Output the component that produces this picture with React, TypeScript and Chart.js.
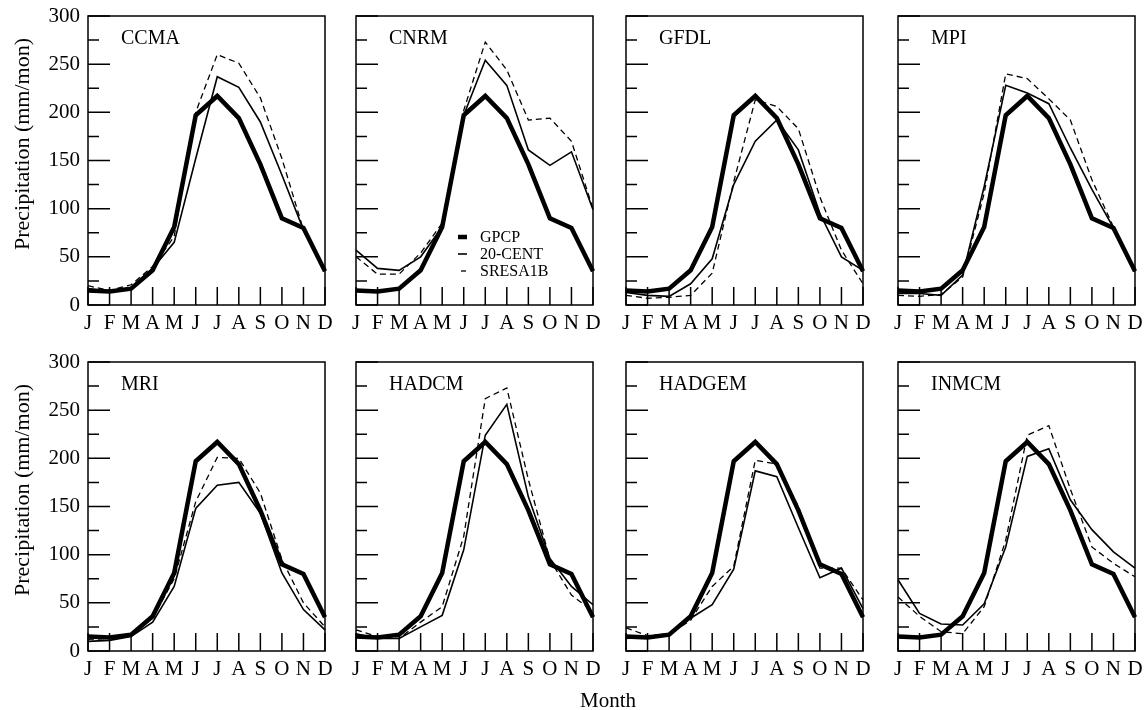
import React, { useEffect, useRef } from 'react';
import { Chart, registerables } from 'chart.js';

Chart.register(...registerables);

// ---------- data ----------
const MONTHS = ['J', 'F', 'M', 'A', 'M', 'J', 'J', 'A', 'S', 'O', 'N', 'D'];
const Y_MIN = 0;
const Y_MAX = 300;
const Y_STEP = 50;

const GPCP = [15, 14, 17, 36, 81, 197, 217, 194, 146, 90, 80, 35];

const CCMA_20C = [17, 14, 18, 38, 65, 152, 237, 226, 190, 135, 78, 35];
const CCMA_A1B = [20, 15, 21, 40, 71, 200, 260, 251, 215, 152, 78, 35];

const CNRM_20C = [57, 38, 36, 50, 81, 197, 254, 228, 161, 145, 159, 99];
const CNRM_A1B = [50, 32, 32, 54, 85, 202, 273, 244, 192, 194, 170, 100];

const GFDL_20C = [13, 10, 9, 22, 48, 125, 170, 192, 161, 95, 50, 36];
const GFDL_A1B = [10, 7, 8, 10, 33, 128, 213, 206, 183, 112, 57, 22];

const MPI_20C = [12, 12, 10, 31, 123, 228, 220, 209, 163, 120, 80, 35];
const MPI_A1B = [10, 9, 11, 29, 116, 240, 235, 214, 192, 130, 81, 35];

const MRI_20C = [10, 11, 15, 30, 67, 148, 172, 175, 143, 81, 43, 22];
const MRI_A1B = [12, 13, 16, 34, 75, 155, 201, 200, 164, 95, 50, 25];

const HADCM_20C = [18, 13, 13, 25, 37, 105, 224, 256, 160, 96, 67, 48];
const HADCM_A1B = [22, 15, 13, 30, 46, 119, 262, 273, 178, 95, 58, 41];

const HADGEM_20C = [13, 15, 18, 34, 48, 85, 187, 181, 128, 76, 86, 44];
const HADGEM_A1B = [24, 16, 17, 32, 67, 88, 198, 194, 150, 86, 86, 53];

const INMCM_20C = [74, 39, 28, 27, 49, 108, 202, 210, 157, 126, 103, 86];
const INMCM_A1B = [56, 36, 20, 18, 46, 115, 224, 234, 168, 108, 91, 77];

const MODEL_NAMES = ['CCMA', 'CNRM', 'GFDL', 'MPI', 'MRI', 'HADCM', 'HADGEM', 'INMCM'];
const MODEL_20C = [CCMA_20C, CNRM_20C, GFDL_20C, MPI_20C, MRI_20C, HADCM_20C, HADGEM_20C, INMCM_20C];
const MODEL_A1B = [CCMA_A1B, CNRM_A1B, GFDL_A1B, MPI_A1B, MRI_A1B, HADCM_A1B, HADGEM_A1B, INMCM_A1B];

const SERIES_LABELS = ['GPCP', '20-CENT', 'SRESA1B'];
const Y_TITLE = 'Precipitation (mm/mon)';
const X_TITLE = 'Month';

// ---------- layout ----------
const FONT = "'Liberation Serif', 'Times New Roman', serif";
const COL_LEFT = [88, 356, 626, 898];
const ROW_TOP = [16, 362];
const PW = 237;
const PH = 289;
const YW = 60;
const PT = 28;
const PR = 20;
const XH = 36;

function Panel({ idx }: { idx: number }) {
  const ref = useRef<HTMLCanvasElement | null>(null);
  const col = idx % 4;
  const row = Math.floor(idx / 4);
  const showY = col === 0;

  useEffect(() => {
    if (!ref.current) return;
    const name = MODEL_NAMES[idx];
    const showLegend = idx === 1;

    const framePlugin = {
      id: 'frame' + idx,
      beforeDatasetsDraw(chart: any) {
        const { ctx, chartArea, scales } = chart;
        const { left, right, top, bottom } = chartArea;
        const x = scales.x;
        const y = scales.y;
        ctx.save();
        ctx.strokeStyle = '#000';
        ctx.lineWidth = 1.5;
        ctx.strokeRect(left, top, right - left, bottom - top);
        ctx.beginPath();
        for (let v = Y_MIN; v <= Y_MAX; v += Y_STEP / 2) {
          const py = y.getPixelForValue(v);
          const len = v % Y_STEP === 0 ? 22 : 11;
          ctx.moveTo(left, py);
          ctx.lineTo(left + len, py);
        }
        for (let i = 0; i < MONTHS.length; i++) {
          const px = x.getPixelForValue(i);
          ctx.moveTo(px, bottom);
          ctx.lineTo(px, bottom - 18);
        }
        ctx.stroke();
        ctx.restore();
      },
      afterDraw(chart: any) {
        const { ctx, chartArea } = chart;
        const { left, top } = chartArea;
        ctx.save();
        ctx.fillStyle = '#000';
        ctx.font = `20px ${FONT}`;
        ctx.textBaseline = 'middle';
        ctx.textAlign = 'left';
        ctx.fillText(name, left + 33, top + 23);
        if (showLegend) {
          ctx.font = `16px ${FONT}`;
          const sx = left + 102;
          const tx = left + 124;
          const rows = [top + 221, top + 238, top + 255];
          ctx.strokeStyle = '#000';
          ctx.lineWidth = 4.5;
          ctx.beginPath();
          ctx.moveTo(sx, rows[0]);
          ctx.lineTo(sx + 9, rows[0]);
          ctx.stroke();
          ctx.lineWidth = 1.6;
          ctx.beginPath();
          ctx.moveTo(sx, rows[1]);
          ctx.lineTo(sx + 9, rows[1]);
          ctx.stroke();
          ctx.lineWidth = 1.3;
          ctx.beginPath();
          ctx.moveTo(sx + 3, rows[2]);
          ctx.lineTo(sx + 8, rows[2]);
          ctx.stroke();
          SERIES_LABELS.forEach((t, i) => ctx.fillText(t, tx, rows[i] + 1));
        }
        ctx.restore();
      },
    };

    const chart = new Chart(ref.current, {
      type: 'line',
      data: {
        labels: MONTHS,
        datasets: [
          {
            label: SERIES_LABELS[0],
            data: GPCP,
            borderColor: '#000',
            borderWidth: 4.5,
            pointRadius: 0,
            tension: 0,
            fill: false,
            borderJoinStyle: 'miter',
          },
          {
            label: SERIES_LABELS[1],
            data: MODEL_20C[idx],
            borderColor: '#000',
            borderWidth: 1.6,
            pointRadius: 0,
            tension: 0,
            fill: false,
          },
          {
            label: SERIES_LABELS[2],
            data: MODEL_A1B[idx],
            borderColor: '#000',
            borderWidth: 1.3,
            borderDash: [6, 4],
            pointRadius: 0,
            tension: 0,
            fill: false,
          },
        ],
      },
      options: {
        animation: false,
        responsive: false,
        maintainAspectRatio: false,
        layout: { padding: { top: PT, right: PR, left: 0, bottom: 0 } },
        plugins: {
          legend: { display: false },
          tooltip: { enabled: false },
          title: { display: false },
        },
        scales: {
          x: {
            type: 'category',
            offset: false,
            grid: { display: false, drawTicks: false },
            border: { display: false },
            ticks: {
              color: '#000',
              font: { family: FONT, size: 21 },
              padding: 6,
              maxRotation: 0,
              autoSkip: false,
            },
            afterFit: (s: any) => {
              s.height = XH;
            },
          },
          y: {
            min: Y_MIN,
            max: Y_MAX,
            grid: { display: false, drawTicks: false },
            border: { display: false },
            ticks: {
              display: showY,
              stepSize: Y_STEP,
              color: '#000',
              font: { family: FONT, size: 21 },
              padding: 8,
            },
            afterFit: (s: any) => {
              s.width = YW;
            },
          },
        },
      } as any,
      plugins: [framePlugin],
    });
    return () => chart.destroy();
  }, [idx]);

  const w = YW + PW + PR;
  const h = PT + PH + XH;
  return (
    <canvas
      ref={ref}
      width={w}
      height={h}
      style={{
        position: 'absolute',
        left: COL_LEFT[col] - YW,
        top: ROW_TOP[row] - PT,
        width: w,
        height: h,
        display: 'block',
      }}
    />
  );
}

export default function App() {
  const ytitleStyle = (cy: number): React.CSSProperties => ({
    position: 'absolute',
    left: 22,
    top: cy,
    transform: 'translate(-50%, -50%) rotate(-90deg)',
    whiteSpace: 'nowrap',
    font: `22px ${FONT}`,
    color: '#000',
  });
  return (
    <div
      style={{
        position: 'absolute',
        left: 0,
        top: 0,
        width: 1146,
        height: 710,
        overflow: 'hidden',
        background: '#fff',
      }}
    >
      {MODEL_NAMES.map((_, i) => (
        <Panel key={i} idx={i} />
      ))}
      <div style={ytitleStyle(ROW_TOP[0] + PH / 2 - 17)}>{Y_TITLE}</div>
      <div style={ytitleStyle(ROW_TOP[1] + PH / 2 - 17)}>{Y_TITLE}</div>
      <div
        style={{
          position: 'absolute',
          left: 608,
          top: 700,
          transform: 'translate(-50%, -50%)',
          whiteSpace: 'nowrap',
          font: `21px ${FONT}`,
          color: '#000',
        }}
      >
        {X_TITLE}
      </div>
    </div>
  );
}
